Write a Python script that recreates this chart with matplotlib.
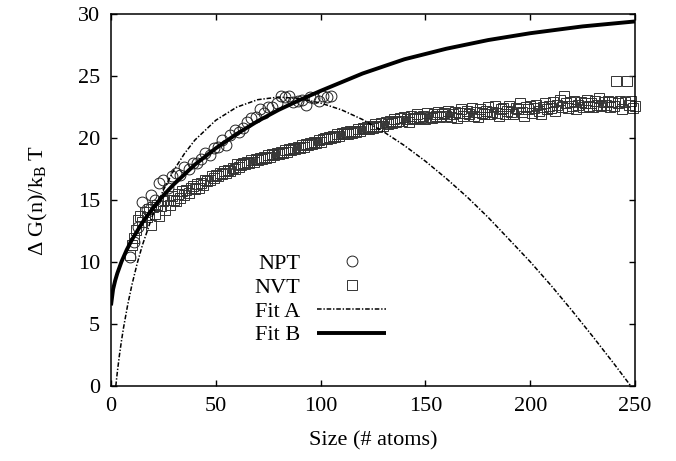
import numpy as np
import matplotlib
matplotlib.use("Agg")
import matplotlib.pyplot as plt

plt.rcParams['font.family'] = ['Liberation Serif', 'DejaVu Serif']
plt.rcParams['mathtext.fontset'] = 'custom'
plt.rcParams['mathtext.rm'] = 'Liberation Serif'
plt.rcParams['mathtext.it'] = 'Liberation Serif:italic'

# ---- data ----
npt_n = list(range(9, 106, 2))
npt_g = [10.4, 11.6, 12.8, 14.8, 14.3, 15.4, 15.0, 16.4, 16.6, 16.0,
         16.9, 17.2, 17.0, 17.7, 17.5, 18.0, 17.96, 18.3, 18.8, 18.6,
         19.2, 19.3, 19.85, 19.45, 20.25, 20.65, 20.5, 20.8, 21.3, 21.6,
         21.7, 22.3, 22.0, 22.5, 22.5, 22.8, 23.35, 23.3, 23.35, 22.9,
         23.0, 23.1, 22.7, 23.3, 23.2, 23.0, 23.35, 23.3, 23.35]

nvt_n = list(range(9, 251))
nvt_g = [10.6, 11.4, 11.9, 12.6, 13.4, 13.7, 13.2, 14.0, 13.6, 14.3,
         13.0, 14.4, 13.9, 14.6, 13.7, 14.5, 14.9, 14.2, 15.0, 14.6,
         15.3, 15.0, 14.9, 15.5, 15.2, 15.7, 15.4, 15.8, 15.6, 16.0,
         16.1, 15.9, 16.3, 16.0, 16.4, 16.2, 16.6, 16.5, 16.6, 16.9,
         16.8, 17.0, 16.9, 17.2, 17.1, 17.3, 17.15, 17.4, 17.3, 17.6,
         17.5, 17.9, 17.7, 17.8, 18.0, 17.9, 18.1, 18.0, 18.2, 18.1,
         18.3, 18.2, 18.4, 18.3, 18.5, 18.4, 18.6, 18.5, 18.7, 18.6,
         18.8, 18.7, 18.9, 18.8, 19.0, 18.9, 19.1, 19.0, 19.2, 19.1,
         19.3, 19.2, 19.4, 19.3, 19.5, 19.4, 19.6, 19.5, 19.7, 19.6,
         19.8, 19.7, 19.9, 20.0, 19.9, 20.1, 20.0, 20.2, 20.1, 20.3,
         20.2, 20.4, 20.3, 20.5, 20.3, 20.6, 20.4, 20.6, 20.5, 20.7,
         20.6, 20.8, 20.7, 20.9, 20.7, 21.0, 20.8, 21.1, 20.9, 21.0,
         21.2, 21.0, 21.3, 21.1, 21.4, 21.2, 21.5, 21.3, 21.4, 21.6,
         21.4, 21.7, 21.5, 21.3, 21.8, 21.6, 21.5, 21.9, 21.7, 21.6,
         21.8, 21.5, 22.0, 21.7, 21.6, 21.9, 21.8, 22.1, 21.7, 21.9,
         22.0, 21.8, 22.2, 21.7, 21.9, 22.1, 21.6, 22.0, 22.3, 21.8,
         22.0, 22.2, 21.9, 22.4, 21.8, 22.1, 21.7, 22.3, 22.0, 21.9,
         22.2, 22.5, 21.9, 22.1, 22.6, 22.0, 21.8, 22.3, 22.4, 21.9,
         22.2, 22.6, 22.1, 21.9, 22.4, 22.3, 22.8, 22.1, 21.8, 22.5,
         22.3, 22.6, 22.0, 22.4, 22.7, 22.2, 21.9, 22.5, 22.8, 22.3,
         22.6, 22.4, 22.9, 22.2, 22.7, 23.1, 22.5, 23.4, 22.8, 22.4,
         22.9, 22.6, 23.0, 22.3, 22.7, 22.9, 22.5, 22.8, 23.1, 22.6,
         22.8, 22.5, 23.0, 22.7, 23.2, 22.6, 22.9, 22.7, 23.0, 22.5,
         22.9, 22.6, 24.6, 22.8, 23.0, 22.3, 22.9, 24.6, 22.7, 23.0,
         22.4, 22.6]

fitA_n = [2.3, 3, 4, 5, 6, 8, 10, 12.5, 15, 20, 25, 30, 35, 40, 50, 60, 70,
          80, 90, 100, 110, 120, 130, 140, 150, 160, 170, 180, 190, 200,
          210, 220, 230, 240, 248]
fitA_g = [0.0, 1.10, 2.46, 3.65, 4.72, 6.58, 8.17, 9.89, 11.37, 13.84,
          15.81, 17.41, 18.73, 19.83, 21.43, 22.49, 23.09, 23.30, 23.18,
          22.82, 22.27, 21.49, 20.51, 19.39, 18.13, 16.73, 15.23, 13.59,
          11.81, 10.02, 8.10, 6.07, 3.96, 1.79, 0.0]

fitB_n = [0, 1, 2, 3, 5, 7.5, 10, 15, 20, 25, 30, 40, 50, 60, 70, 80, 90,
          100, 120, 140, 160, 180, 200, 225, 250]
fitB_g = [6.5, 7.80, 8.51, 9.08, 10.02, 10.98, 11.80, 13.19, 14.35, 15.37,
          16.27, 17.85, 19.17, 20.33, 21.36, 22.27, 23.06, 23.80, 25.2,
          26.35, 27.2, 27.9, 28.45, 29.0, 29.4]

xticks = [0, 50, 100, 150, 200, 250]
yticks = [0, 5, 10, 15, 20, 25, 30]

# ---- figure ----
fig = plt.figure(figsize=(6.76, 4.61), dpi=100)
ax = fig.add_axes([111/676, 1 - 386/461, 524/676, (386 - 14)/461])

ax.plot(npt_n, npt_g, linestyle='none', marker='o', markersize=7.8,
        markerfacecolor='none', markeredgecolor='#222222',
        markeredgewidth=0.7, label='NPT', clip_on=False)
ax.plot(nvt_n, nvt_g, linestyle='none', marker='s', markersize=7.5,
        markerfacecolor='none', markeredgecolor='#333333',
        markeredgewidth=0.7, label='NVT', clip_on=False)
lA, = ax.plot(fitA_n, fitA_g, color='black', linewidth=1.1, label='Fit A')
lA.set_dashes([3.0, 1.2, 0.9, 1.2])
ax.plot(fitB_n, fitB_g, color='black', linewidth=2.8, label='Fit B',
        solid_capstyle='butt')

ax.set_xlim(0, 250)
ax.set_ylim(0, 30)
ax.set_xticks(xticks)
ax.set_yticks(yticks)
ax.tick_params(direction='in', top=True, right=True, length=4, width=1,
               labelsize=16, pad=8, color='black')
for s in ax.spines.values():
    s.set_linewidth(1.1)

ax.set_xlabel('Size (# atoms)', fontsize=16, labelpad=11)
ax.set_ylabel(r'Δ G(n)/k$_\mathregular{B}$ T', fontsize=16, labelpad=20)

leg = ax.legend(loc='upper right', bbox_to_anchor=(0.525, 0.357),
                frameon=False, markerfirst=False, fontsize=16,
                handlelength=3.1, handletextpad=0.75, labelspacing=0.15,
                borderpad=0, borderaxespad=0)

fig.savefig('out.png', dpi=100)
